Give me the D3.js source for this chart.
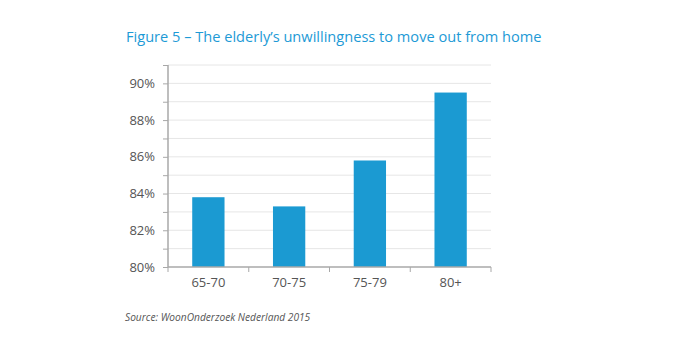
<!DOCTYPE html>
<html>
<head>
<meta charset="utf-8">
<script src="https://cdn.jsdelivr.net/npm/d3@7"></script>
<style>
  body { margin: 0; background: #fff; }
  svg { display: block; }
</style>
</head>
<body>
<div id="chart"></div>
<script>
// Figure 5 – share of elderly unwilling to move, by age group

const ageGroups = ["65-70", "70-75", "75-79", "80+"];
const unwillingPct = [83.8, 83.3, 85.8, 89.5];
const yTickValues = [80, 82, 84, 86, 88, 90];

const W = 674, H = 350;
const margin = { top: 65, right: 183, bottom: 83, left: 168 };
const width = W - margin.left - margin.right;
const height = H - margin.top - margin.bottom;

const svg = d3.select("#chart").append("svg")
    .attr("width", W)
    .attr("height", H);

svg.append("text")
    .attr("x", 126)
    .attr("y", 42)
    .attr("fill", "#1d9ad6")
    .style("font-family", "'Open Sans', sans-serif")
    .style("font-size", "14.6px")
    .text("Figure 5 \u2013 The elderly\u2019s unwillingness to move out from home");

const g = svg.append("g")
    .attr("transform", `translate(${margin.left},${margin.top})`);

const x = d3.scaleBand()
    .domain(ageGroups)
    .range([0, width]);

const y = d3.scaleLinear()
    .domain([80, 91])
    .range([height, 0]);

// light gridlines every 1%
g.append("g")
    .selectAll("line")
    .data(d3.range(81, 92))
    .join("line")
    .attr("x1", 0)
    .attr("x2", width)
    .attr("y1", d => y(d))
    .attr("y2", d => y(d))
    .attr("stroke", "#e6e6e6")
    .attr("stroke-width", 1);

// bars
const barW = x.bandwidth() * 0.4;
g.selectAll(".bar")
    .data(ageGroups.map((a, i) => ({ age: a, v: unwillingPct[i] })))
    .join("rect")
    .attr("class", "bar")
    .attr("x", d => x(d.age) + (x.bandwidth() - barW) / 2)
    .attr("width", barW)
    .attr("y", d => y(d.v))
    .attr("height", d => y(80) - y(d.v))
    .attr("fill", "#1b9ad2");

// y axis: ticks every 1%, labels every 2%
const yAxis = g.append("g")
    .call(d3.axisLeft(y)
        .tickValues(d3.range(80, 92))
        .tickSize(5)
        .tickPadding(8)
        .tickFormat(d => yTickValues.includes(d) ? d + "%" : ""));

// x axis with ticks at category edges
const xAxis = g.append("g")
    .attr("transform", `translate(0,${height})`)
    .call(d3.axisBottom(x).tickSize(0).tickPadding(11));

xAxis.append("g")
    .selectAll("line")
    .data(ageGroups.map(a => x(a)).concat([width]))
    .join("line")
    .attr("x1", d => d)
    .attr("x2", d => d)
    .attr("y1", 0)
    .attr("y2", 5)
    .attr("stroke", "#a8a8a8");

[yAxis, xAxis].forEach(ax => {
    ax.select(".domain").attr("stroke", "#a8a8a8").attr("stroke-width", 1.5);
    ax.selectAll(".tick line").attr("stroke", "#a8a8a8");
    ax.selectAll("text")
        .attr("fill", "#555")
        .style("font-family", "'Open Sans', sans-serif")
        .style("font-size", "13px");
});
yAxis.select(".domain").attr("d", `M0,0V${height}`);
xAxis.select(".domain").attr("d", `M0,0H${width}`);

svg.append("text")
    .attr("x", 125)
    .attr("y", 321)
    .attr("fill", "#555")
    .style("font-family", "'Open Sans', sans-serif")
    .style("font-style", "italic")
    .style("font-size", "10.2px")
    .text("Source: WoonOnderzoek Nederland 2015");
</script>
</body>
</html>
